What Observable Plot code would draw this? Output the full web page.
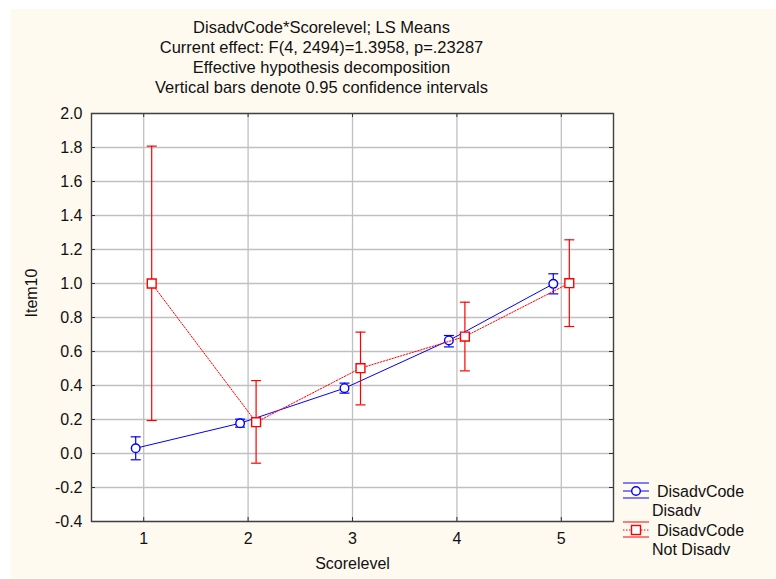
<!DOCTYPE html>
<html>
<head>
<meta charset="utf-8">
<script src="https://cdn.jsdelivr.net/npm/d3@7"></script>
<script src="https://cdn.jsdelivr.net/npm/@observablehq/plot@0.6"></script>
<style>
  html, body { margin: 0; padding: 0; background: #ffffff; }
  #wrap { position: absolute; left: 11px; top: 9px; width: 765px; height: 570px; background: #fffaf0; }
  #wrap svg { background: transparent; }
</style>
</head>
<body>
<div id="wrap"></div>
<script>
// ---- data ----
const scoreLevels = [1, 2, 3, 4, 5];
const disadvMean  = [0.031, 0.178, 0.384, 0.665, 0.998];
const disadvLow   = [-0.037, 0.155, 0.355, 0.627, 0.939];
const disadvHigh  = [0.098, 0.202, 0.414, 0.694, 1.057];
const notMean     = [1.0, 0.184, 0.502, 0.688, 1.002];
const notLow      = [0.194, -0.057, 0.286, 0.486, 0.747];
const notHigh     = [1.808, 0.429, 0.714, 0.890, 1.257];
const yTicks = [-0.4, -0.2, 0.0, 0.2, 0.4, 0.6, 0.8, 1.0, 1.2, 1.4, 1.6, 1.8, 2.0];
const titleLines = [
  "DisadvCode*Scorelevel; LS Means",
  "Current effect: F(4, 2494)=1.3958, p=.23287",
  "Effective hypothesis decomposition",
  "Vertical bars denote 0.95 confidence intervals"
];
const seriesNames = [["DisadvCode", "Disadv"], ["DisadvCode", "Not Disadv"]];

const disadv = scoreLevels.map((s, i) => ({s, m: disadvMean[i], lo: disadvLow[i], hi: disadvHigh[i]}));
const notDisadv = scoreLevels.map((s, i) => ({s, m: notMean[i], lo: notLow[i], hi: notHigh[i]}));

const BLUE = "#0000ff", RED = "#ff0000";
const capSymbol = { draw(ctx) { ctx.moveTo(-5, 0); ctx.lineTo(5, 0); } };
const FONT = "'Liberation Sans', Arial, sans-serif";

const W = 765, H = 570, mL = 80, mR = 163, mT = 104, mB = 58;
const pw = W - mL - mR, ph = H - mT - mB;

function series(data, color, dx, symbol, r, dash) {
  return [
    Plot.ruleX(data, {x: "s", y1: "lo", y2: "hi", stroke: color, strokeWidth: 1.2, dx}),
    Plot.dot(data, {x: "s", y: "lo", symbol: capSymbol, stroke: color, strokeWidth: 1.2, dx}),
    Plot.dot(data, {x: "s", y: "hi", symbol: capSymbol, stroke: color, strokeWidth: 1.2, dx}),
    Plot.line(data, {x: "s", y: "m", stroke: color, strokeWidth: 1, strokeDasharray: dash, dx}),
    Plot.dot(data, {x: "s", y: "m", symbol, r, stroke: color, strokeWidth: 1.4, fill: "white", dx})
  ];
}

const chart = Plot.plot({
  width: W, height: H,
  marginLeft: mL, marginRight: mR, marginTop: mT, marginBottom: mB,
  style: {fontFamily: FONT, fontSize: "16px", background: "transparent", color: "#111"},
  x: {domain: [0.5, 5.5], ticks: scoreLevels, tickFormat: d => String(d), tickSize: 0, tickPadding: 11, label: null},
  y: {domain: [-0.4, 2.0], ticks: yTicks, tickFormat: d => d.toFixed(1), tickSize: 0, tickPadding: 9, label: null},
  marks: [
    Plot.frame({fill: "white"}),
    Plot.ruleX(scoreLevels, {x: d => d, stroke: "#c0c0c0", strokeWidth: 1.3}),
    Plot.ruleY(yTicks, {y: d => d, stroke: "#c0c0c0", strokeWidth: 1.3}),
    // inward ticks on four sides
    Plot.ruleX(scoreLevels, {x: d => d, insetTop: ph - 4, stroke: "#333"}),
    Plot.ruleX(scoreLevels, {x: d => d, insetBottom: ph - 4, stroke: "#333"}),
    Plot.ruleY(yTicks, {y: d => d, insetRight: pw - 4, stroke: "#333"}),
    Plot.ruleY(yTicks, {y: d => d, insetLeft: pw - 4, stroke: "#333"}),
    ...series(disadv, BLUE, -8, "circle", 4.3, null),
    ...series(notDisadv, RED, 8, "square", 5, "1.5,1.5"),
    Plot.frame({stroke: "#404040", strokeWidth: 1.4}),
    Plot.text([titleLines.join("\n")], {frameAnchor: "top", dx: -31, dy: -95, lineHeight: 1.21, fontSize: 16.5, fill: "#111"}),
    Plot.text(["Scorelevel"], {frameAnchor: "bottom", dy: 47, fontSize: 16, fill: "#111"}),
    Plot.text(["Item10"], {frameAnchor: "left", dx: -60, rotate: -90, fontSize: 16, fill: "#111"})
  ]
});
document.getElementById("wrap").appendChild(chart);

// legend (svg coords = page coords minus wrap offset 11,9)
const svg = d3.select(chart);
const lg = svg.append("g").attr("font-family", FONT).attr("font-size", 16).attr("fill", "#111").attr("text-anchor", "start");
const entries = [
  {color: BLUE, cy: 482, dash: null, sym: "circle"},
  {color: RED, cy: 521, dash: "1.5,1.5", sym: "square"}
];
entries.forEach((e, i) => {
  const x0 = 612, x1 = 638, cx = 625;
  lg.append("line").attr("x1", x0).attr("x2", x1).attr("y1", e.cy - 8).attr("y2", e.cy - 8).attr("stroke", e.color);
  lg.append("line").attr("x1", x0).attr("x2", x1).attr("y1", e.cy + 7).attr("y2", e.cy + 7).attr("stroke", e.color);
  lg.append("line").attr("x1", x0).attr("x2", x1).attr("y1", e.cy).attr("y2", e.cy).attr("stroke", e.color).attr("stroke-dasharray", e.dash);
  if (e.sym === "circle") {
    lg.append("circle").attr("cx", cx).attr("cy", e.cy).attr("r", 4.3).attr("fill", "white").attr("stroke", e.color).attr("stroke-width", 1.4);
  } else {
    lg.append("rect").attr("x", cx - 4.5).attr("y", e.cy - 4.5).attr("width", 9).attr("height", 9).attr("fill", "white").attr("stroke", e.color).attr("stroke-width", 1.4);
  }
  lg.append("text").attr("x", 646).attr("y", e.cy).attr("dy", "0.35em").text(seriesNames[i][0]);
  lg.append("text").attr("x", 641).attr("y", e.cy + 19.5).attr("dy", "0.35em").text(seriesNames[i][1]);
});
</script>
</body>
</html>
